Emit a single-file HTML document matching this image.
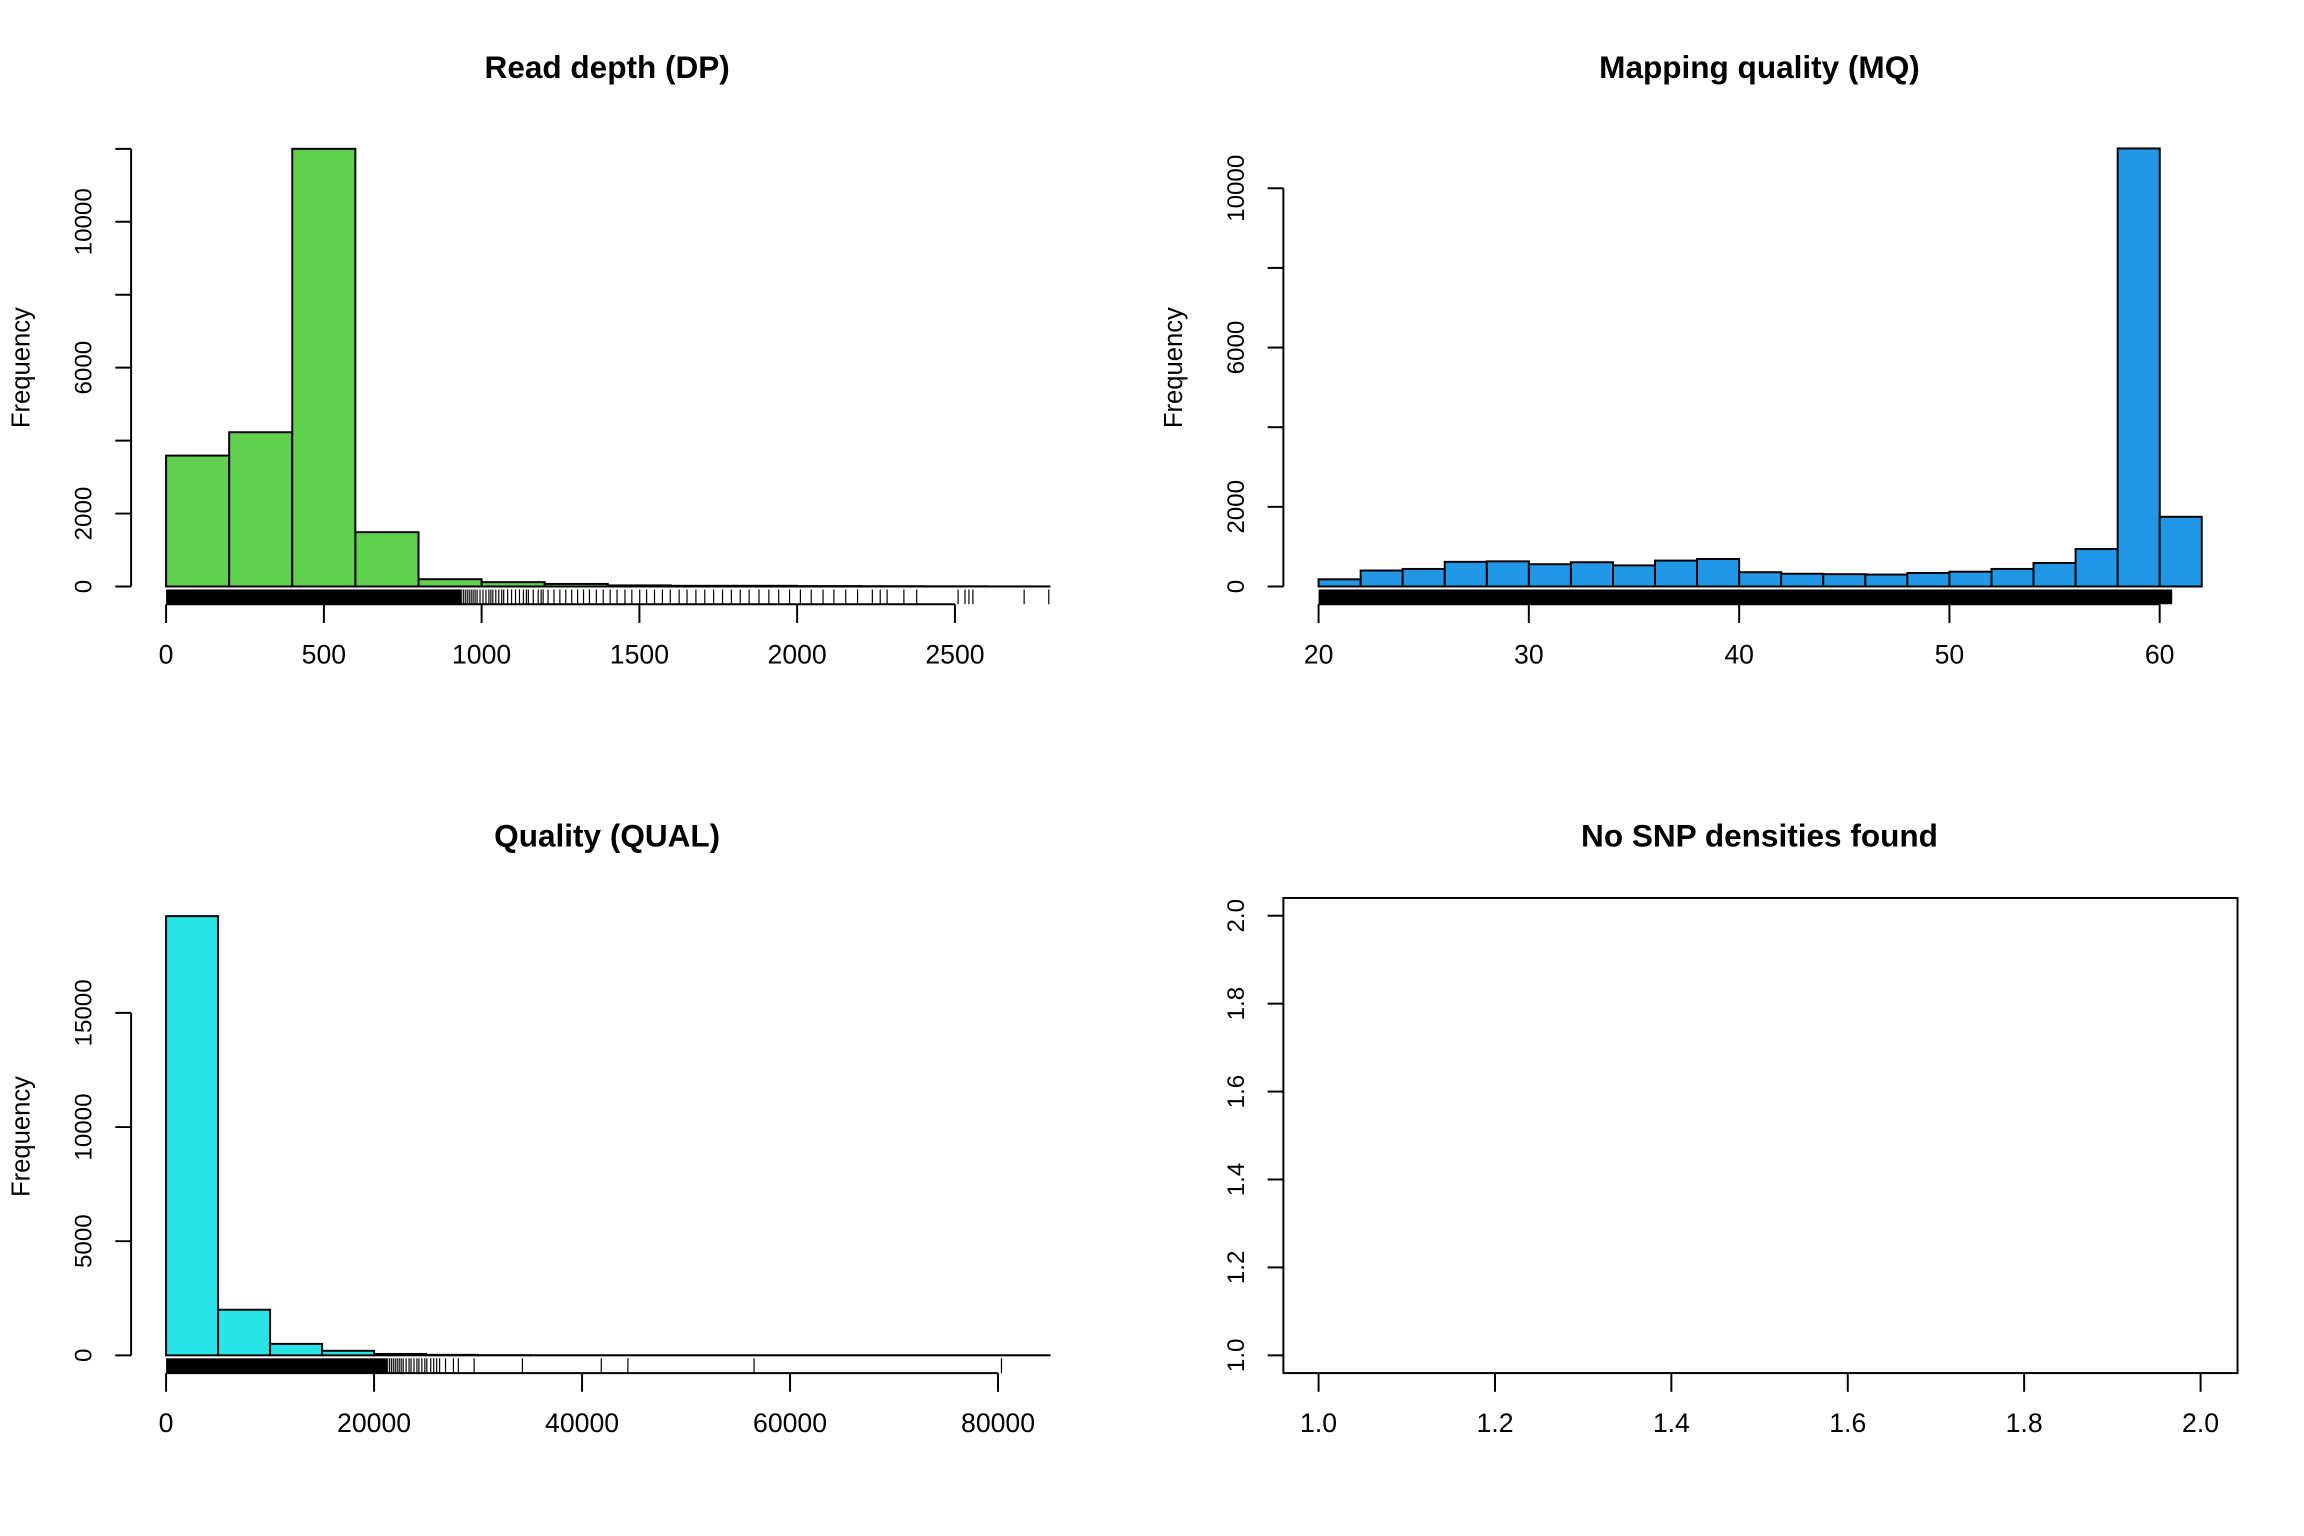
<!DOCTYPE html>
<html><head><meta charset="utf-8"><style>
html,body{margin:0;padding:0;background:#fff;}
svg{display:block;}
text{font-family:"Liberation Sans",sans-serif;fill:#000;}
.t{font-weight:bold;font-size:32px;}
.l{font-size:27px;}
.r{font-size:24.5px;}
.f{font-size:26px;}
</style></head><body>
<svg width="2304" height="1536" viewBox="0 0 2304 1536" xmlns="http://www.w3.org/2000/svg">
<g transform="scale(0.9857)">
<g stroke="#000" stroke-width="2" fill="none">
<g fill="#61D04F" stroke="#000" stroke-width="2">
<rect x="168.5" y="462.2" width="64" height="132.8"/>
<rect x="232.5" y="438.5" width="64" height="156.5"/>
<rect x="296.5" y="151" width="64" height="444"/>
<rect x="360.6" y="539.9" width="64" height="55.1"/>
<rect x="424.6" y="587.6" width="64" height="7.4"/>
<rect x="488.6" y="590.6" width="64" height="4.4"/>
<rect x="552.6" y="592.4" width="64" height="2.6"/>
<rect x="616.6" y="593.9" width="64" height="1.1"/>
<rect x="680.6" y="594.3" width="64" height="0.7"/>
<rect x="744.6" y="594.3" width="64" height="0.7"/>
<rect x="808.7" y="594.6" width="64" height="0.4"/>
<rect x="872.7" y="594.7" width="64" height="0.3"/>
<rect x="936.7" y="594.8" width="64" height="0.2"/>
<rect x="1000.7" y="594.9" width="64" height="0.1"/>
</g>
<line x1="133" y1="595" x2="133" y2="151"/>
<g><line x1="117" y1="595" x2="133" y2="595"/><line x1="117" y1="521" x2="133" y2="521"/><line x1="117" y1="447" x2="133" y2="447"/><line x1="117" y1="373" x2="133" y2="373"/><line x1="117" y1="299" x2="133" y2="299"/><line x1="117" y1="225" x2="133" y2="225"/><line x1="117" y1="151" x2="133" y2="151"/></g>
<line x1="168.5" y1="613" x2="968.8" y2="613"/>
<g><line x1="168.5" y1="613" x2="168.5" y2="632"/><line x1="328.6" y1="613" x2="328.6" y2="632"/><line x1="488.6" y1="613" x2="488.6" y2="632"/><line x1="648.7" y1="613" x2="648.7" y2="632"/><line x1="808.7" y1="613" x2="808.7" y2="632"/><line x1="968.8" y1="613" x2="968.8" y2="632"/></g>
<rect x="168.5" y="598" width="300" height="15" fill="#000" stroke="none"/>
<g stroke-width="1.2">
<path d="M470 598v15M472 598v15M474 598v15M476 598v15M478 598v15M480 598v15M482 598v15M484 598v15M487 598v15M490 598v15M493 598v15M496 598v15M498 598v15M500 598v15M503 598v15M506 598v15M509 598v15M511 598v15M515 598v15M519 598v15M523 598v15M527 598v15M531 598v15M534 598v15M536 598v15M541 598v15M546 598v15M549 598v15M551 598v15M556 598v15M562 598v15M568 598v15M574 598v15M580 598v15M586 598v15M592 598v15M598 598v15M605 598v15M612 598v15M619 598v15M626 598v15M634 598v15M641 598v15M649 598v15M656 598v15M664 598v15M672 598v15M680 598v15M689 598v15M697 598v15M706 598v15M715 598v15M724 598v15M733 598v15M742 598v15M751 598v15M760 598v15M770 598v15M780 598v15M790 598v15M801 598v15M812 598v15M823 598v15M835 598v15M846 598v15M858 598v15M870 598v15M885 598v15M893 598v15M900 598v15M917 598v15M930 598v15M972 598v15M979 598v15M983 598v15M987 598v15M1039 598v15M1064 598v15"/>
</g>
<g fill="#2297E6" stroke="#000" stroke-width="2">
<rect x="1337.7" y="587.7" width="42.7" height="7.3"/>
<rect x="1380.4" y="578.8" width="42.7" height="16.2"/>
<rect x="1423" y="577.2" width="42.7" height="17.8"/>
<rect x="1465.7" y="570" width="42.7" height="25"/>
<rect x="1508.4" y="569.5" width="42.7" height="25.5"/>
<rect x="1551" y="572.4" width="42.7" height="22.6"/>
<rect x="1593.7" y="570.4" width="42.7" height="24.6"/>
<rect x="1636.4" y="573.6" width="42.7" height="21.4"/>
<rect x="1679" y="568.7" width="42.7" height="26.3"/>
<rect x="1721.7" y="567.1" width="42.7" height="27.9"/>
<rect x="1764.4" y="580.5" width="42.7" height="14.5"/>
<rect x="1807" y="582.1" width="42.7" height="12.9"/>
<rect x="1849.7" y="582.5" width="42.7" height="12.5"/>
<rect x="1892.4" y="582.9" width="42.7" height="12.1"/>
<rect x="1935" y="581.3" width="42.7" height="13.7"/>
<rect x="1977.7" y="580" width="42.7" height="15"/>
<rect x="2020.4" y="577.2" width="42.7" height="17.8"/>
<rect x="2063" y="571.2" width="42.7" height="23.8"/>
<rect x="2105.7" y="557" width="42.7" height="38"/>
<rect x="2148.4" y="150.6" width="42.7" height="444.4"/>
<rect x="2191" y="524.3" width="42.7" height="70.7"/>
</g>
<line x1="1302" y1="595" x2="1302" y2="191"/>
<g><line x1="1286" y1="595" x2="1302" y2="595"/><line x1="1286" y1="514.2" x2="1302" y2="514.2"/><line x1="1286" y1="433.4" x2="1302" y2="433.4"/><line x1="1286" y1="352.6" x2="1302" y2="352.6"/><line x1="1286" y1="271.8" x2="1302" y2="271.8"/><line x1="1286" y1="191" x2="1302" y2="191"/></g>
<rect x="1337.7" y="598" width="866" height="15" fill="#000" stroke="none"/>
<line x1="1337.7" y1="613" x2="2191" y2="613"/>
<g><line x1="1337.7" y1="613" x2="1337.7" y2="632"/><line x1="1551" y1="613" x2="1551" y2="632"/><line x1="1764.4" y1="613" x2="1764.4" y2="632"/><line x1="1977.7" y1="613" x2="1977.7" y2="632"/><line x1="2191" y1="613" x2="2191" y2="632"/></g>
<g fill="#28E2E5" stroke="#000" stroke-width="2">
<rect x="168.5" y="929.4" width="52.75" height="445.6"/>
<rect x="221.25" y="1328.7" width="52.75" height="46.3"/>
<rect x="274" y="1363.4" width="52.75" height="11.6"/>
<rect x="326.75" y="1370.4" width="52.75" height="4.6"/>
<rect x="379.5" y="1373.6" width="52.75" height="1.4"/>
<rect x="432.25" y="1374.5" width="52.75" height="0.5"/>
<rect x="485" y="1374.8" width="52.75" height="0.2"/>
<rect x="537.75" y="1374.9" width="527" height="0.1"/>
</g>
<line x1="133" y1="1375" x2="133" y2="1027.6"/>
<g><line x1="117" y1="1375" x2="133" y2="1375"/><line x1="117" y1="1259.2" x2="133" y2="1259.2"/><line x1="117" y1="1143.4" x2="133" y2="1143.4"/><line x1="117" y1="1027.6" x2="133" y2="1027.6"/></g>
<rect x="168.5" y="1378" width="225" height="15" fill="#000" stroke="none"/>
<g stroke-width="1.2"><path d="M395 1378v15M397 1378v15M399 1378v15M401 1378v15M403 1378v15M405 1378v15M407 1378v15M409 1378v15M412 1378v15M415 1378v15M417 1378v15M420 1378v15M423 1378v15M425 1378v15M428 1378v15M431 1378v15M433 1378v15M437 1378v15M440 1378v15M443 1378v15M446 1378v15M452 1378v15M460 1378v15M465 1378v15M481 1378v15M530 1378v15M610 1378v15M637 1378v15M765 1378v15M1016 1378v15"/></g>
<line x1="168.5" y1="1393" x2="1012.5" y2="1393"/>
<g><line x1="168.5" y1="1393" x2="168.5" y2="1412"/><line x1="379.5" y1="1393" x2="379.5" y2="1412"/><line x1="590.5" y1="1393" x2="590.5" y2="1412"/><line x1="801.5" y1="1393" x2="801.5" y2="1412"/><line x1="1012.5" y1="1393" x2="1012.5" y2="1412"/></g>
<rect x="1302" y="911" width="968" height="482"/>
<g><line x1="1286" y1="1375" x2="1302" y2="1375"/><line x1="1286" y1="1285.8" x2="1302" y2="1285.8"/><line x1="1286" y1="1196.6" x2="1302" y2="1196.6"/><line x1="1286" y1="1107.4" x2="1302" y2="1107.4"/><line x1="1286" y1="1018.2" x2="1302" y2="1018.2"/><line x1="1286" y1="929" x2="1302" y2="929"/></g>
<g><line x1="1337.7" y1="1393" x2="1337.7" y2="1412"/><line x1="1516.7" y1="1393" x2="1516.7" y2="1412"/><line x1="1695.6" y1="1393" x2="1695.6" y2="1412"/><line x1="1874.6" y1="1393" x2="1874.6" y2="1412"/><line x1="2053.5" y1="1393" x2="2053.5" y2="1412"/><line x1="2232.5" y1="1393" x2="2232.5" y2="1412"/></g>
</g>
<text class="t" x="616" y="79" text-anchor="middle">Read depth (DP)</text>
<text class="t" x="1785" y="79" text-anchor="middle">Mapping quality (MQ)</text>
<text class="t" x="616" y="859" text-anchor="middle">Quality (QUAL)</text>
<text class="t" x="1785" y="859" text-anchor="middle">No SNP densities found</text>
<text class="f" transform="translate(30,373) rotate(-90)" text-anchor="middle">Frequency</text>
<text class="f" transform="translate(1199,373) rotate(-90)" text-anchor="middle">Frequency</text>
<text class="f" transform="translate(30,1153) rotate(-90)" text-anchor="middle">Frequency</text>
<g class="r" text-anchor="middle">
<text transform="translate(93,595) rotate(-90)">0</text>
<text transform="translate(93,521) rotate(-90)">2000</text>
<text transform="translate(93,373) rotate(-90)">6000</text>
<text transform="translate(93,225) rotate(-90)">10000</text>
<text transform="translate(1262,595) rotate(-90)">0</text>
<text transform="translate(1262,514.2) rotate(-90)">2000</text>
<text transform="translate(1262,352.6) rotate(-90)">6000</text>
<text transform="translate(1262,191) rotate(-90)">10000</text>
<text transform="translate(93,1375) rotate(-90)">0</text>
<text transform="translate(93,1259.2) rotate(-90)">5000</text>
<text transform="translate(93,1143.4) rotate(-90)">10000</text>
<text transform="translate(93,1027.6) rotate(-90)">15000</text>
<text transform="translate(1262,1375) rotate(-90)">1.0</text>
<text transform="translate(1262,1285.8) rotate(-90)">1.2</text>
<text transform="translate(1262,1196.6) rotate(-90)">1.4</text>
<text transform="translate(1262,1107.4) rotate(-90)">1.6</text>
<text transform="translate(1262,1018.2) rotate(-90)">1.8</text>
<text transform="translate(1262,929) rotate(-90)">2.0</text>
</g>
<g class="l" text-anchor="middle">
<text x="168.5" y="673">0</text><text x="328.6" y="673">500</text><text x="488.6" y="673">1000</text><text x="648.7" y="673">1500</text><text x="808.7" y="673">2000</text><text x="968.8" y="673">2500</text>
<text x="1337.7" y="673">20</text><text x="1551" y="673">30</text><text x="1764.4" y="673">40</text><text x="1977.7" y="673">50</text><text x="2191" y="673">60</text>
<text x="168.5" y="1453">0</text><text x="379.5" y="1453">20000</text><text x="590.5" y="1453">40000</text><text x="801.5" y="1453">60000</text><text x="1012.5" y="1453">80000</text>
<text x="1337.7" y="1453">1.0</text><text x="1516.7" y="1453">1.2</text><text x="1695.6" y="1453">1.4</text><text x="1874.6" y="1453">1.6</text><text x="2053.5" y="1453">1.8</text><text x="2232.5" y="1453">2.0</text>
</g>
</g>
</svg>
</body></html>
